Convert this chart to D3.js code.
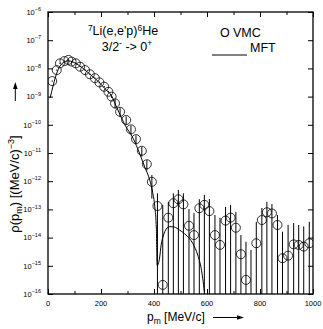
<!DOCTYPE html>
<html><head><meta charset="utf-8">
<script src="https://cdn.jsdelivr.net/npm/d3@7"></script>
<style>
html,body{margin:0;padding:0;background:#fff;}
svg{display:block;font-family:"Liberation Sans",Arial,Helvetica,sans-serif;}
</style></head>
<body><svg id="c" width="323" height="329"></svg>
<script>
// ---------- data ----------
const xTicks = [0,100,200,300,400,500,600,700,800,900,1000];
const xTickLabels = [0,200,400,600,800,1000];
const yTickExps = [-6,-7,-8,-9,-10,-11,-12,-13,-14,-15,-16];

// VMC (open circles with error bars)
const vmcP = [16,33,45,62,77,89,105,121,140,158,177,194,212,228,240,253,272,295,313,332,354,373,392,
  413,433,454,473,492,511,532,551,571,590,609,630,649,670,689,709,728,747,766,786,807,826,845,866,885,906,927,946,965,986];
const vmcRho = [3.55e-9,8.7e-9,1.51e-8,1.82e-8,2.0e-8,1.74e-8,1.51e-8,1.15e-8,8.7e-9,6.2e-9,4.5e-9,3.2e-9,2.24e-9,1.48e-9,1.0e-9,
  5.75e-10,2.88e-10,1.48e-10,6.9e-11,3.1e-11,1.2e-11,4.0e-12,9.5e-13,
  1.32e-13,2.1e-16,5.1e-14,1.66e-13,2.29e-13,1.51e-13,2.63e-14,1.23e-14,1.1e-13,1.45e-13,8.7e-14,1.23e-14,5.5e-15,
  4.0e-14,5.1e-14,2.24e-14,2.57e-15,3.16e-16,3e-17,6.3e-15,4.2e-14,7.9e-14,7.2e-14,2.8e-14,1.86e-15,2.29e-15,5.75e-15,5.5e-15,4.8e-15,6.3e-15];
const vmcErr = [2e-10,4e-10,6e-10,7e-10,8e-10,7e-10,6e-10,5e-10,4e-10,3e-10,2.5e-10,2e-10,1.5e-10,1e-10,1e-10,
  2.0e-10,1.0e-10,5e-11,2.4e-11,1.1e-11,4.5e-12,1.6e-12,7.1e-13,
  2.4e-13,1.45e-13,1.35e-13,2.06e-13,2.6e-13,2.2e-13,7.6e-14,6.2e-14,1.2e-13,1.8e-13,1.47e-13,5.1e-14,4.5e-14,
  8.3e-14,9.4e-14,5.9e-14,9.7e-15,6.8e-15,3.6e-15,3.0e-14,7.0e-14,1.07e-13,8.3e-14,3.5e-14,1.43e-14,2.6e-14,2.7e-14,2.25e-14,2.0e-14,3.0e-14];

// MFT (solid line)
const mftP = [8,20,33,45,60,75,95,115,140,165,190,215,240,260,290,322,345,365,384,395,403,409,412,
  421,427,436,446,459,477,496,521,546,565,578,590,594];
const mftRho = [8.9e-10,2.57e-9,6.76e-9,1.2e-8,1.66e-8,1.86e-8,1.66e-8,1.32e-8,8.7e-9,5.5e-9,3.4e-9,1.9e-9,1.05e-9,4.0e-10,1.0e-10,3.2e-11,1.0e-11,3.2e-12,1.1e-12,4.0e-13,1.26e-13,1.9e-14,1.0e-15,
  1.9e-15,5.5e-15,1.23e-14,2.0e-14,2.45e-14,2.35e-14,1.86e-14,1.23e-14,6.3e-15,2.4e-15,8.1e-16,1.2e-16,5e-17];

// ---------- layout ----------
const L=48, R=313, T=12, B=294;
const svg = d3.select("#c");
const x = d3.scaleLinear().domain([0,1000]).range([L,R]);
const y = d3.scaleLog().domain([1e-16,1e-6]).range([B,T]);

svg.append("defs").append("clipPath").attr("id","clip")
  .append("rect").attr("x",L).attr("y",T).attr("width",R-L).attr("height",B-T);

const plot = svg.append("g").attr("clip-path","url(#clip)");

// MFT curve
const mft = mftP.map((p,i)=>({p, v:mftRho[i]}));
plot.append("path").datum(mft)
  .attr("fill","none").attr("stroke","#000").attr("stroke-width",1)
  .attr("d", d3.line().x(d=>x(d.p)).y(d=>y(d.v)).curve(d3.curveMonotoneX));

// VMC
const vmc = vmcP.map((p,i)=>({p, v:vmcRho[i], e:vmcErr[i]}));
plot.selectAll("line.err").data(vmc).enter().append("line")
  .attr("class","err")
  .attr("x1",d=>x(d.p)).attr("x2",d=>x(d.p))
  .attr("y1",d=>y(d.v+d.e))
  .attr("y2",d=> (d.v-d.e)>0 ? y(d.v-d.e) : B+2)
  .attr("stroke","#000").attr("stroke-width",1);
plot.selectAll("circle").data(vmc).enter().append("circle")
  .attr("cx",d=>x(d.p)).attr("cy",d=>y(d.v)).attr("r",4.5)
  .attr("fill","none").attr("stroke","#000").attr("stroke-width",0.8);

// ---------- axes ----------
const yVals = yTickExps.map(e=>Math.pow(10,e));
svg.append("g").attr("transform",`translate(${L},0)`)
  .call(d3.axisLeft(y).tickValues(yVals).tickSize(-5).tickFormat(""))
  .call(g=>g.select(".domain").remove());
svg.append("g").attr("transform",`translate(${R},0)`)
  .call(d3.axisRight(y).tickValues(yVals).tickSize(-5).tickFormat(""))
  .call(g=>g.select(".domain").remove());

const isMajor = v => v%200===0;
function xTickAxis(g, bottom){
  const ax = (bottom?d3.axisBottom(x):d3.axisTop(x)).tickValues(xTicks).tickFormat("").tickSize(-3);
  g.call(ax).call(g=>g.select(".domain").remove());
  g.selectAll(".tick line").attr("y2", d=> (bottom?-1:1)*(isMajor(d)?5:3));
}
svg.append("g").attr("transform",`translate(0,${B})`).call(g=>xTickAxis(g,true));
svg.append("g").attr("transform",`translate(0,${T})`).call(g=>xTickAxis(g,false));

svg.selectAll(".tick line").attr("stroke","#000").attr("stroke-width",1);

// frame
svg.append("rect").attr("x",L).attr("y",T).attr("width",R-L).attr("height",B-T)
  .attr("fill","none").attr("stroke","#000").attr("stroke-width",1.3);

// y tick labels
const yl = svg.append("g").attr("font-size",7.5).attr("fill","#000");
yTickExps.forEach(e=>{
  const t = yl.append("text").attr("x",41).attr("y",y(Math.pow(10,e))+2.7).attr("text-anchor","end");
  t.append("tspan").text("10");
  t.append("tspan").attr("font-size",5.5).attr("dy",-3.5).text(String(e).replace("-","\u2212"));
});
// x tick labels
svg.append("g").attr("font-size",7.5).selectAll("text").data(xTickLabels).enter().append("text")
  .attr("x",d=>x(d)).attr("y",305.5).attr("text-anchor","middle").text(d=>d);

// x axis title
const xt = svg.append("text").attr("x",147).attr("y",321).attr("font-size",12);
xt.append("tspan").text("p");
xt.append("tspan").attr("font-size",8.5).attr("dy",3).text("m");
xt.append("tspan").attr("dy",-3).text(" [MeV/c]");
svg.append("line").attr("x1",213).attr("x2",238).attr("y1",317.5).attr("y2",317.5).attr("stroke","#000").attr("stroke-width",1);
svg.append("path").attr("d","M244,317.5 L237,315.2 L237,319.8 Z").attr("fill","#000");

// y axis title
const yt = svg.append("text").attr("transform","translate(19,184) rotate(-90)")
  .attr("text-anchor","middle").attr("font-size",13);
yt.append("tspan").text("\u03c1(p");
yt.append("tspan").attr("font-size",9).attr("dy",3).text("m");
yt.append("tspan").attr("dy",-3).text(") [(MeV/c)");
yt.append("tspan").attr("font-size",9).attr("dy",-5).text("\u22123");
yt.append("tspan").attr("dy",5).text("]");
svg.append("line").attr("x1",15.3).attr("x2",15.3).attr("y1",101).attr("y2",88).attr("stroke","#000").attr("stroke-width",1);
svg.append("path").attr("d","M15.3,82 L13,89 L17.6,89 Z").attr("fill","#000");

// title
const t1 = svg.append("text").attr("x",123).attr("y",35).attr("text-anchor","middle").attr("font-size",12.5);
t1.append("tspan").attr("font-size",8.5).attr("dy",-4.5).text("7");
t1.append("tspan").attr("dy",4.5).text("Li(e,e'p)");
t1.append("tspan").attr("font-size",8.5).attr("dy",-4.5).text("6");
t1.append("tspan").attr("dy",4.5).text("He");
const t2 = svg.append("text").attr("x",127).attr("y",50.5).attr("text-anchor","middle").attr("font-size",12.5);
t2.append("tspan").text("3/2");
t2.append("tspan").attr("font-size",8.5).attr("dy",-4.5).text("-");
t2.append("tspan").attr("dy",4.5).text(" -> 0");
t2.append("tspan").attr("font-size",8.5).attr("dy",-4.5).text("+");

// legend
svg.append("text").attr("x",220).attr("y",37).attr("font-size",12.5).text("O");
svg.append("text").attr("x",233).attr("y",37).attr("font-size",12.5).text("VMC");
svg.append("text").attr("x",250).attr("y",52).attr("font-size",12.5).text("MFT");
svg.append("line").attr("x1",212).attr("x2",247).attr("y1",55).attr("y2",55).attr("stroke","#000").attr("stroke-width",1);
</script></body></html>
